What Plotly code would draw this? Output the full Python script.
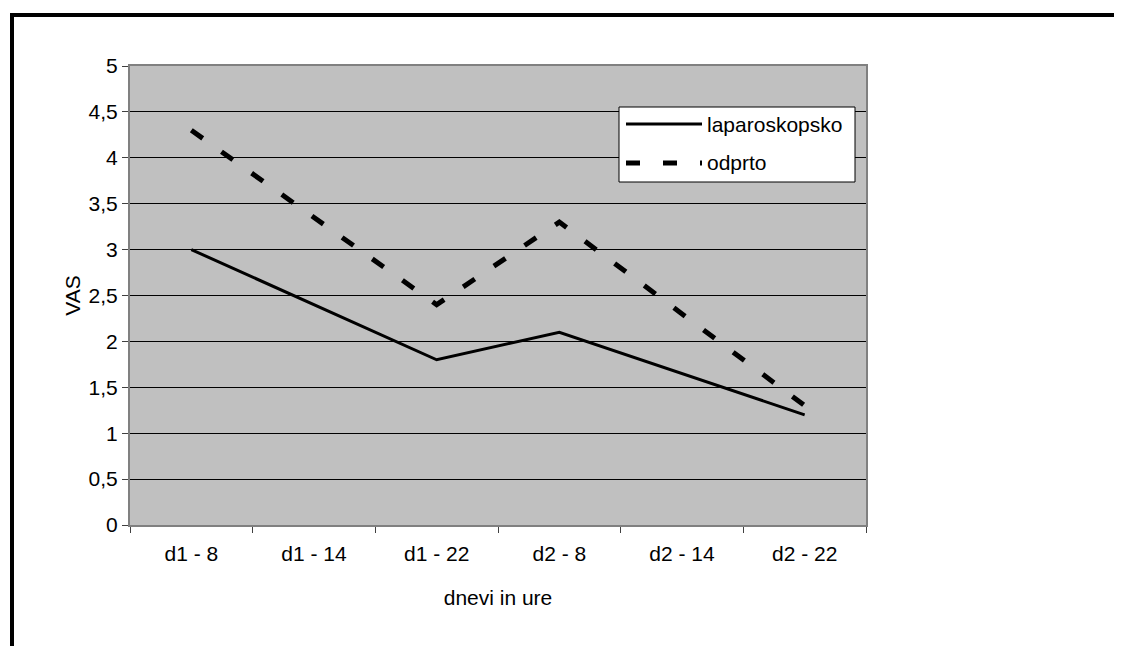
import plotly.graph_objects as go

categories = ["d1 - 8", "d1 - 14", "d1 - 22", "d2 - 8", "d2 - 14", "d2 - 22"]
laparoskopsko = [3.0, 2.4, 1.8, 2.1, 1.65, 1.2]
odprto = [4.3, 3.35, 2.4, 3.3, 2.3, 1.3]
y_ticks = [0, 0.5, 1, 1.5, 2, 2.5, 3, 3.5, 4, 4.5, 5]
y_ticktext = [str(v).replace(".", ",") for v in y_ticks]

FONT = "Liberation Sans, Arial, sans-serif"
FS = 21

# page offset (body margin) and plot area in screen pixels
OFF = 8
L, R, T, B = 130 - OFF, 866 - OFF, 66 - OFF, 525 - OFF
W, H = 1122 - OFF, 646 - OFF
PW, PH = R - L, B - T

def px(x):
    return (x - OFF - L) / PW

def py(y):
    return (B - (y - OFF)) / PH

fig = go.Figure()
fig.add_trace(go.Scatter(x=categories, y=laparoskopsko, mode="lines", name="laparoskopsko",
                         line=dict(color="black", width=3), showlegend=False))
fig.add_trace(go.Scatter(x=categories, y=odprto, mode="lines", name="odprto",
                         line=dict(color="black", width=5, dash="14px,23px"), showlegend=False))

shapes = []
# outer frame
shapes.append(dict(type="rect", xref="paper", yref="paper",
                   x0=px(12), x1=px(1140), y0=py(15), y1=py(665),
                   line=dict(color="black", width=4), fillcolor="rgba(0,0,0,0)", layer="above"))
# legend box
shapes.append(dict(type="rect", xref="paper", yref="paper",
                   x0=px(619), x1=px(855), y0=py(107), y1=py(182),
                   line=dict(color="black", width=1), fillcolor="white", layer="above"))
shapes.append(dict(type="line", xref="paper", yref="paper",
                   x0=px(626), x1=px(702), y0=py(124), y1=py(124),
                   line=dict(color="black", width=3), layer="above"))
shapes.append(dict(type="line", xref="paper", yref="paper",
                   x0=px(626), x1=px(702), y0=py(163), y1=py(163),
                   line=dict(color="black", width=5, dash="14px,23px"), layer="above"))

annotations = [
    dict(text="laparoskopsko", xref="paper", yref="paper", x=px(705), y=py(124),
         xanchor="left", yanchor="middle", showarrow=False,
         font=dict(family=FONT, size=FS, color="black")),
    dict(text="odprto", xref="paper", yref="paper", x=px(705), y=py(163),
         xanchor="left", yanchor="middle", showarrow=False,
         font=dict(family=FONT, size=FS, color="black")),
]

fig.update_layout(
    width=W, height=H,
    margin=dict(l=L, r=W - R, t=T, b=H - B, pad=0),
    paper_bgcolor="white", plot_bgcolor="#C0C0C0",
    font=dict(family=FONT, size=FS, color="black"),
    shapes=shapes, annotations=annotations,
    xaxis=dict(
        type="category", categoryorder="array", categoryarray=categories,
        range=[-0.5, 5.5], tickson="boundaries", ticks="outside", ticklen=6,
        tickcolor="#404040", tickwidth=1,
        showline=True, linecolor="#808080", linewidth=2, mirror=True,
        showgrid=False, ticklabelstandoff=9,
        title=dict(text="dnevi in ure", standoff=26, font=dict(size=FS)),
    ),
    yaxis=dict(
        range=[0, 5], tickvals=y_ticks, ticktext=y_ticktext, ticks="outside", ticklen=6,
        tickcolor="#404040", tickwidth=1,
        showline=True, linecolor="#808080", linewidth=2, mirror=True,
        showgrid=True, gridcolor="black", gridwidth=1, zeroline=False,
        ticklabelstandoff=0,
        title=dict(text="VAS", standoff=2, font=dict(size=FS)),
    ),
)

fig.write_html("out.html")
